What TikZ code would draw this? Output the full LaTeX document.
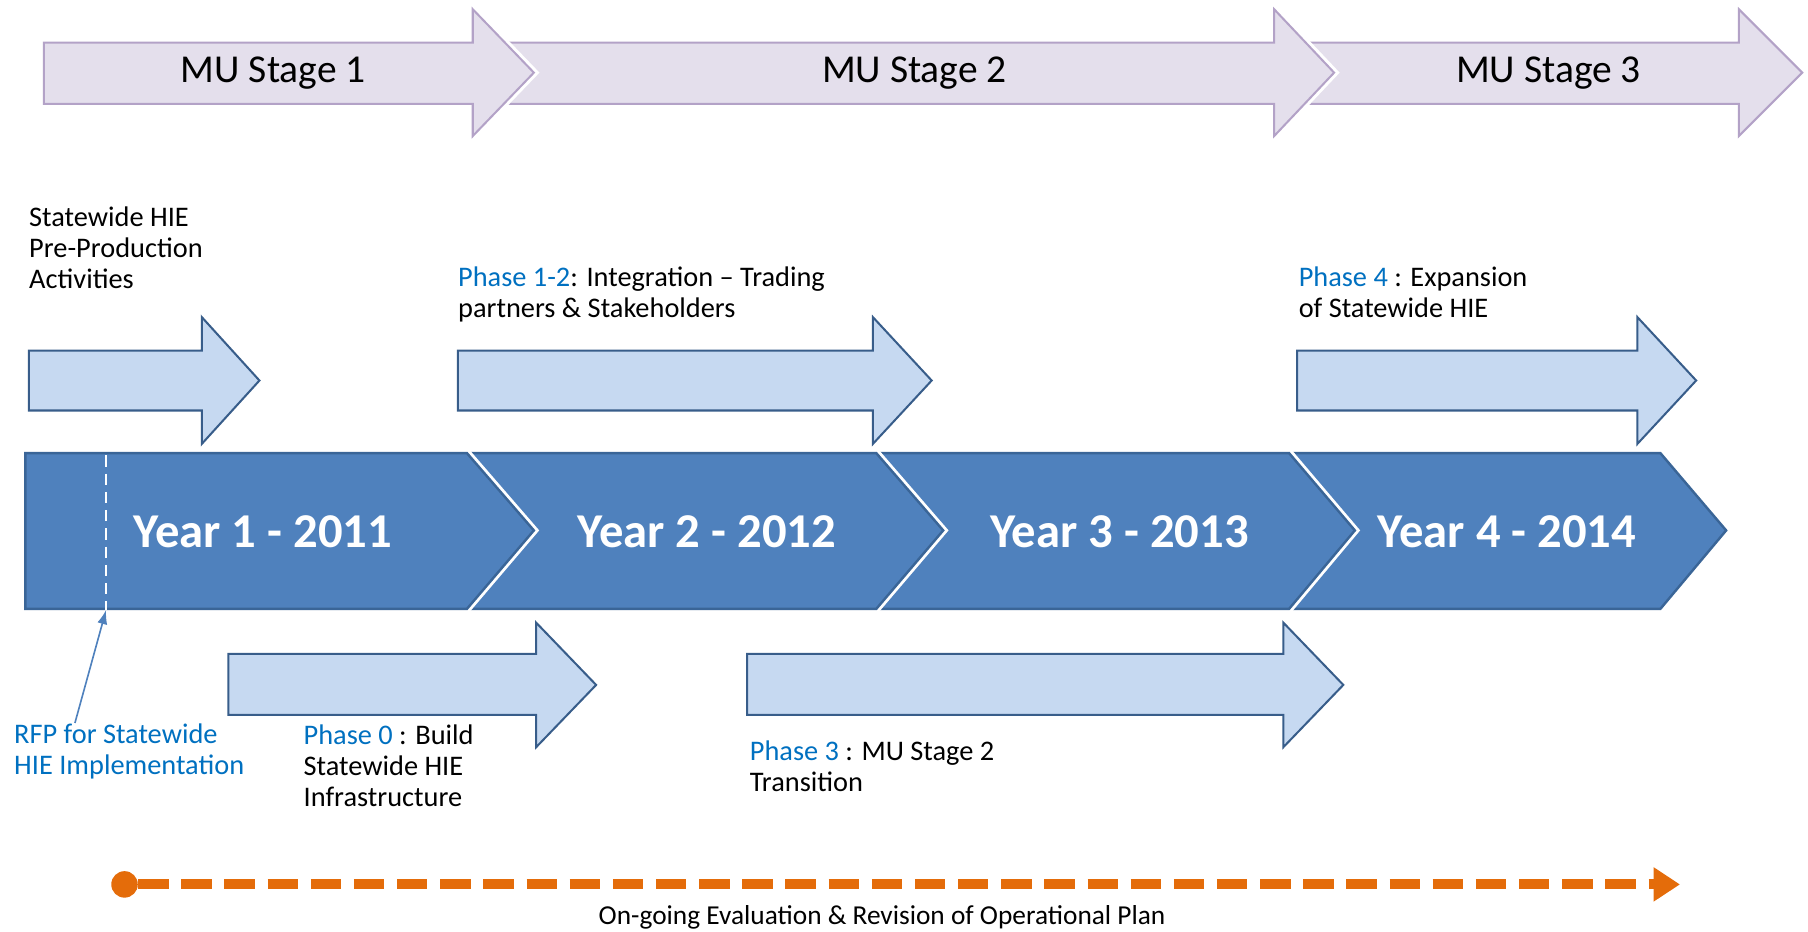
\documentclass[tikz,border=0pt]{standalone}
\usepackage{fontspec}
\setmainfont{Carlito}
\usetikzlibrary{arrows.meta}
\definecolor{stagefill}{HTML}{E4DFEC}
\definecolor{stageline}{HTML}{B3A2C7}
\definecolor{phasefill}{HTML}{C6D9F1}
\definecolor{phaseline}{HTML}{385D8A}
\definecolor{yearfill}{HTML}{4F81BD}
\definecolor{yearline}{HTML}{3A6597}
\definecolor{phaseblue}{HTML}{0070C0}
\definecolor{evalorange}{HTML}{E46C0A}
\newcommand{\ph}[1]{\textcolor{phaseblue}{#1}}
\begin{document}
\begin{tikzpicture}[x=0.02cm, y=-0.02cm,
        halo/.style={preaction={draw=white, line width=4pt}},
        stagearrow/.style={halo, fill=stagefill, draw=stageline, line width=1pt},
        phasearrow/.style={fill=phasefill, draw=phaseline, line width=1pt},
        yearshape/.style={halo, fill=yearfill, draw=yearline, line width=1.2pt},
        note/.style={align=left, anchor=north west, inner sep=0pt, font=\fontsize{14}{15.4}\selectfont},
        stagelabel/.style={font=\fontsize{19.5}{22}\selectfont},
        yearlabel/.style={text=white, font=\fontsize{24}{28}\selectfont\bfseries},
        rfparrow/.style={draw=yearfill, line width=0.8pt, -{Latex[length=7pt, width=5pt]}},
        evalline/.style={draw=evalorange, line width=5pt, dash pattern=on 15pt off 6.3pt, -{Triangle[length=13pt, width=16pt]}}]
        \useasboundingbox (0,0) rectangle (1568,808);

        \draw[stagearrow] (1122,37) -- (1508,37) -- (1508,8) -- (1563,63) -- (1508,118) -- (1508,90) -- (1122,90) -- cycle;
        \draw[stagearrow] (430,37) -- (1105,37) -- (1105,8) -- (1157,63) -- (1105,118) -- (1105,90) -- (430,90) -- cycle;
        \draw[stagearrow] (38,37) -- (410,37) -- (410,8) -- (463,63) -- (410,118) -- (410,90) -- (38,90) -- cycle;
        \path (237,63)  node[stagelabel] (stage1) {MU Stage 1};
        \path (793,63)  node[stagelabel] (stage2) {MU Stage 2};
        \path (1343,63) node[stagelabel] (stage3) {MU Stage 3};

        \draw[phasearrow] (25,304) -- (175,304) -- (175,275) -- (225,330) -- (175,385) -- (175,356) -- (25,356) -- cycle;
        \draw[phasearrow] (397,304) -- (757,304) -- (757,275) -- (808,330) -- (757,385) -- (757,356) -- (397,356) -- cycle;
        \draw[phasearrow] (1125,304) -- (1420,304) -- (1420,275) -- (1471,330) -- (1420,385) -- (1420,356) -- (1125,356) -- cycle;
        \draw[phasearrow] (198,567) -- (465,567) -- (465,540) -- (517,594) -- (465,648) -- (465,620) -- (198,620) -- cycle;
        \draw[phasearrow] (648,567) -- (1113,567) -- (1113,540) -- (1165,594) -- (1113,648) -- (1113,620) -- (648,620) -- cycle;

        \draw[yearshape] (1115,393) -- (1440,393) -- (1497,460) -- (1440,528) -- (1115,528) -- cycle;
        \draw[yearshape] (757,393) -- (1118,393) -- (1175,460) -- (1118,528) -- (757,528) -- cycle;
        \draw[yearshape] (402,393) -- (760,393) -- (818,460) -- (760,528) -- (402,528) -- cycle;
        \draw[yearshape] (22,393) -- (405,393) -- (463,460) -- (405,528) -- (22,528) -- cycle;
        \path (228,461)  node[yearlabel] (year1) {Year 1 - 2011};
        \path (613,461)  node[yearlabel] (year2) {Year 2 - 2012};
        \path (971,461)  node[yearlabel] (year3) {Year 3 - 2013};
        \path (1307,461) node[yearlabel] (year4) {Year 4 - 2014};

        \coordinate (rfpline) at (92,395);
        \coordinate (rfptop) at (92,529);
        \draw[white, line width=1.2pt, dash pattern=on 5.5pt off 3.5pt] (rfpline) -- (rfptop);

        \path (25,179)   node[note] (preprod) {Statewide HIE\\Pre-Production\\Activities};
        \path (397,231)  node[note] (phase12) {\ph{Phase 1-2}: Integration – Trading\\partners \& Stakeholders};
        \path (1126,231) node[note] (phase4) {\ph{Phase 4} : Expansion\\of Statewide HIE};
        \path (12,627)   node[note, text=phaseblue] (rfp) {RFP for Statewide\\HIE Implementation};
        \path (263,628)  node[note] (phase0) {\ph{Phase 0} : Build\\Statewide HIE\\Infrastructure};
        \path (650,642)  node[note] (phase3) {\ph{Phase 3} : MU Stage 2\\Transition};

        \draw[rfparrow] ([xshift=1.06cm]rfp.north west) -- (rfptop);

        \path (108,767) node[circle, fill=evalorange, minimum size=0.46cm, inner sep=0pt] (evalstart) {};
        \coordinate (evalend) at (1457,767);
        \draw[evalline] (evalstart) -- (evalend);
        \path (765,796) node[font=\fontsize{13.5}{15}\selectfont] (evaltext) {On-going Evaluation \& Revision of Operational Plan};
\end{tikzpicture}
\end{document}
